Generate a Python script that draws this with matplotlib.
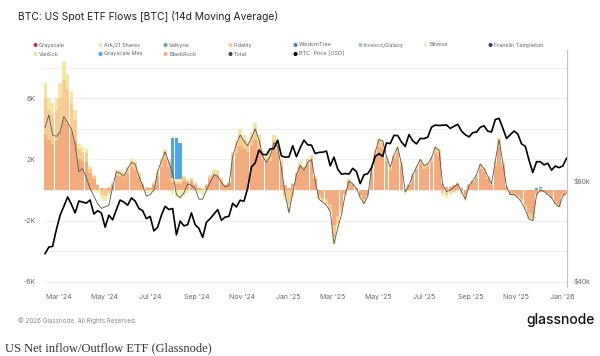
import numpy as np
import pandas as pd
import matplotlib
matplotlib.use("Agg")
import matplotlib.pyplot as plt
from matplotlib.ticker import FixedLocator, NullFormatter

# 14d moving average flows, thousands of BTC, one value every 5 days
dates = pd.date_range("2024-02-12", periods=140, freq="5D")

total = [4.1, 4.9, 3.6, 3.5, 3.8, 4.8, 4.4, 4.0, 3.0, 1.2,
         1.4, 0.8, 0.1, -0.4, -0.9, -1.2, -1.1, -1.0, 0.2, 1.2,
         1.1, 0.9, 1.4, 1.8, 1.7, 0.9, 0.3, -0.4, -0.3, 0.0,
         1.2, 1.9, 2.5, 1.8, 1.1, -0.3, -0.5, -0.2, 0.4, 0.3,
         0.1, -0.6, -0.6, 0.0, 0.5, 1.0, 0.9, 0.5, 0.2, 0.3,
         2.2, 3.0, 3.6, 3.2, 2.9, 3.4, 4.0, 3.3, 2.2, 1.8,
         2.2, 3.1, 2.8, 1.4, -0.3, -1.5, -0.2, 1.0, 1.6, 1.3,
         1.8, 2.0, 0.6, -0.6, -0.8, -1.0, -1.4, -3.5, -2.5, -1.6,
         -0.3, 0.6, 0.4, 0.1, -0.5, -0.9, -0.4, 1.3, 2.5, 3.3,
         3.2, 2.2, 1.5, 2.3, 2.8, 1.7, -0.1, 0.3, 1.0, 1.5,
         2.0, 1.6, 1.7, 2.1, 2.8, 2.6, 0.3, -0.1, 0.0, 0.2,
         0.4, -0.1, -0.6, 0.3, 0.6, 1.0, 1.7, 1.4, 0.9, 0.4,
         1.9, 3.3, 1.8, 0.2, -0.3, -0.3, -0.5, -0.8, -1.3, -1.9,
         -2.0, -0.3, 0.0, -0.1, -0.3, -0.5, -0.9, -1.1, -0.4, -0.2]

blackrock = [3.6, 3.3, 3.0, 3.2, 3.8, 4.6, 4.3, 3.8, 3.2, 2.0,
             1.9, 1.8, 1.1, 0.7, 0.3, 0.1, 0.05, 0.1, 0.3, 0.9,
             0.9, 0.8, 1.1, 1.5, 1.3, 0.8, 0.3, 0.1, 0.1, 0.3,
             0.9, 1.5, 2.0, 1.5, 0.5, 0.4, 0.4, 0.6, 0.5, 0.6,
             0.3, 0.1, 0.05, 0.3, 0.7, 0.9, 0.9, 0.5, 0.3, 0.4,
             1.8, 2.4, 2.9, 2.7, 2.5, 2.9, 3.3, 2.7, 2.0, 1.8,
             1.9, 2.7, 2.5, 1.5, 0.3, 0.1, 0.4, 1.0, 1.5, 1.3,
             1.7, 1.9, 0.7, -0.3, -0.5, -0.6, -0.9, -2.3, -1.7, -1.1,
             -0.2, 0.5, 0.3, 0.1, -0.3, -0.6, -0.3, 1.1, 2.1, 2.8,
             2.7, 1.9, 1.3, 2.0, 2.4, 1.5, 0.0, 0.3, 0.9, 1.3,
             1.7, 1.4, 1.5, 1.8, 2.4, 2.2, 0.4, 0.2, 0.2, 0.3,
             0.4, 0.1, -0.3, 0.3, 0.5, 0.8, 1.4, 1.2, 0.7, 0.35,
             1.6, 2.8, 1.5, 0.2, -0.2, -0.2, -0.35, -0.6, -1.0, -1.5,
             -1.6, -0.2, -0.1, -0.1, -0.2, -0.4, -0.7, -0.9, -0.3, -0.15]

fidelity = [2.4, 1.9, 1.9, 2.0, 2.2, 2.6, 2.3, 1.9, 1.4, 0.7,
            0.6, 0.6, 0.3, 0.2, 0.05, -0.3, -0.4, -0.2, 0.1, 0.2,
            0.2, 0.2, 0.3, 0.4, 0.4, 0.2, 0.1, 0.05, 0.05, 0.1,
            0.2, 0.4, 0.5, 0.3, 0.1, 0.1, 0.1, 0.2, 0.1, 0.1,
            0.1, 0.05, 0.0, 0.05, 0.2, 0.2, 0.2, 0.2, 0.05, 0.05,
            0.5, 0.6, 0.7, 0.6, 0.5, 0.6, 0.7, 0.6, 0.4, 0.3,
            0.4, 0.6, 0.5, 0.3, -0.4, -0.9, -0.3, 0.1, 0.2, 0.2,
            0.3, 0.3, 0.1, -0.2, -0.2, -0.3, -0.4, -0.8, -0.5, -0.3,
            -0.1, 0.1, 0.1, 0.0, -0.1, -0.2, -0.1, 0.15, 0.3, 0.4,
            0.4, 0.2, 0.15, 0.2, 0.3, 0.2, -0.1, 0.05, 0.1, 0.15,
            0.2, 0.2, 0.2, 0.3, 0.3, 0.3, -0.2, -0.3, -0.2, -0.1,
            0.05, -0.2, -0.2, 0.05, 0.1, 0.1, 0.2, 0.15, 0.1, 0.05,
            0.2, 0.4, 0.2, 0.0, -0.1, -0.1, -0.1, -0.15, -0.2, -0.3,
            -0.3, -0.1, 0.1, 0.0, -0.1, -0.1, -0.2, -0.2, -0.1, -0.05]

ark = [1.0, 0.8, 0.8, 0.8, 1.0, 1.2, 1.0, 0.8, 0.6, 0.3,
       0.3, 0.3, 0.2, 0.1, 0.05, 0.05, 0.05, 0.1, 0.1, 0.2,
       0.2, 0.2, 0.2, 0.2, 0.2, 0.2, 0.1, 0.05, 0.05, 0.1,
       0.2, 0.2, 0.2, 0.2, 0.2, 0.2, 0.2, 0.1, 0.1, 0.1,
       0.1, 0.05, 0.05, 0.05, 0.1, 0.2, 0.2, 0.1, 0.05, 0.05,
       0.2, 0.3, 0.4, 0.3, 0.3, 0.3, 0.4, 0.3, 0.2, 0.2,
       0.2, 0.3, 0.3, 0.2, 0.05, 0.0, 0.05, 0.1, 0.1, 0.1,
       0.1, 0.1, 0.1, 0, 0, 0, 0, 0, 0, 0,
       0, 0.1, 0.05, 0.05, 0, 0, 0, 0.1, 0.2, 0.2,
       0.2, 0.1, 0.1, 0.1, 0.2, 0.1, 0, 0.05, 0.1, 0.1,
       0.1, 0.1, 0.1, 0.1, 0.2, 0.2, 0.05, 0, 0, 0,
       0.05, 0, 0, 0.05, 0.05, 0.1, 0.1, 0.1, 0.1, 0.05,
       0.1, 0.2, 0.1, 0.05, 0, 0, 0, 0, 0, 0,
       0, 0, 0, 0, 0, 0, 0, 0, 0, 0]

bitwise = [0, 0, 0, 0, 0, 0, 0, 0, 0, 0,
           0, 0, 0, -0.1, -0.2, -0.3, -0.3, -0.2, 0, 0,
           0, 0, 0, 0, 0, 0, -0.1, -0.2, -0.2, -0.1,
           0, 0, 0, 0, -0.3, -0.5, -0.6, -0.4, -0.2, 0,
           0, -0.2, -0.3, -0.1, 0, 0, 0, 0, -0.1, 0,
           0, 0, 0, 0, 0, 0, 0, 0, 0, 0,
           0, 0, 0, 0, -0.3, -0.5, -0.2, 0, 0, 0,
           0, 0, 0, -0.1, -0.1, -0.1, -0.1, -0.4, -0.3, -0.2,
           0, 0, 0, 0, -0.1, -0.1, 0, 0, 0, 0,
           0, 0, 0, 0, 0, 0, -0.2, -0.1, 0, 0,
           0, 0, 0, 0, 0, 0, -0.2, -0.2, -0.1, -0.1,
           0, -0.1, -0.2, 0, 0, 0, 0, 0, 0, 0,
           0, 0, 0, -0.1, -0.1, -0.1, -0.05, -0.05, -0.1, -0.1,
           -0.1, 0, 0, 0, 0, 0, 0, 0, 0, 0]

grayscale_mini = [0] * 34 + [2.6, 2.7, 2.4] + [0] * 94 + [0.15, 0.1] + [0] * 7

# BTC price, thousands of USD
price = [48.3, 50.5, 50.8, 57.0, 63.0, 67.0, 71.5, 68.0, 64.0, 69.5,
         69.0, 68.5, 70.0, 63.5, 65.0, 64.0, 58.0, 63.0, 61.0, 65.5,
         70.0, 69.0, 67.5, 71.0, 69.5, 66.0, 65.0, 61.5, 62.5, 56.5,
         58.0, 63.0, 67.0, 65.5, 66.0, 55.0, 60.5, 58.5, 59.0, 64.0,
         59.0, 57.5, 54.0, 60.0, 61.5, 63.5, 65.5, 60.8, 62.2, 62.5,
         68.4, 66.7, 69.9, 69.4, 76.0, 88.0, 90.5, 98.9, 96.0, 95.8,
         99.8, 100.0, 106.0, 95.0, 94.2, 94.4, 102.0, 94.5, 100.5, 106.0,
         102.6, 102.4, 96.6, 97.4, 97.5, 98.3, 88.7, 94.2, 86.7, 83.7,
         84.1, 83.8, 87.2, 85.2, 78.4, 83.4, 84.0, 87.5, 94.7, 96.5,
         94.7, 104.0, 103.5, 109.6, 109.4, 104.6, 101.5, 110.2, 105.5, 103.3,
         107.3, 107.1, 108.2, 116.0, 117.7, 117.3, 117.6, 117.8, 115.0, 116.7,
         118.3, 112.9, 110.1, 108.4, 111.7, 112.1, 115.9, 117.1, 112.8, 112.2,
         122.3, 123.3, 115.3, 107.2, 110.1, 112.9, 110.6, 103.3, 101.6, 92.2,
         84.7, 91.3, 91.3, 89.3, 90.3, 86.1, 88.6, 87.6, 88.7, 93.5]

for s in (total, blackrock, fidelity, ark, bitwise, grayscale_mini, price):
    assert len(s) == len(dates), len(s)

legend_names = ["Grayscale", "Ark/21 Shares", "Valkyrie", "Fidelity", "WisdomTree",
                "Invesco/Galaxy", "Bitwise", "Franklin Templeton",
                "VanEck", "Grayscale Mini", "BlackRock", "Total", "BTC: Price [USD]"]
legend_colors = ["#b03a55", "#f1e6a2", "#5fa8a0", "#f6cc94", "#4f7fae",
                 "#9ad19e", "#eef0b4", "#3f3a8c",
                 "#dde8b2", "#4ea4e6", "#f2aa7f", "#444444", "#000000"]
col = dict(zip(legend_names, legend_colors))

xtick_dates = pd.to_datetime(["2024-03-01", "2024-05-01", "2024-07-01", "2024-09-01",
                              "2024-11-01", "2025-01-01", "2025-03-01", "2025-05-01",
                              "2025-07-01", "2025-09-01", "2025-11-01", "2026-01-01"])
xtick_labels = ["Mar '24", "May '24", "Jul '24", "Sep '24", "Nov '24", "Jan '25",
                "Mar '25", "May '25", "Jul '25", "Sep '25", "Nov '25", "Jan '26"]

plt.rcParams['font.family'] = ['Inter', 'DejaVu Sans']

fig = plt.figure(figsize=(6, 3.56), dpi=100)
ax = fig.add_axes([0.0733, 0.1938, 0.8717, 0.6657])
ax2 = ax.twinx()

# stacked bars, positives and negatives stacked separately
pos = np.zeros(len(dates))
neg = np.zeros(len(dates))
stack = [(blackrock, "BlackRock"), (fidelity, "Fidelity"), (ark, "Ark/21 Shares"),
         (bitwise, "Bitwise"), (grayscale_mini, "Grayscale Mini")]
for vals, name in stack:
    v = np.array(vals, dtype=float)
    bottom = np.where(v >= 0, pos, neg)
    ax.bar(dates, v, bottom=bottom, width=4.6, color=col[name], linewidth=0, zorder=2)
    pos = pos + np.clip(v, 0, None)
    neg = neg + np.clip(v, None, 0)

ax.plot(dates, total, color="#555555", lw=0.6, zorder=3)
ax2.plot(dates, price, color="black", lw=1.2, zorder=4)

ax.set_xlim(pd.Timestamp("2024-02-10 12:00"), pd.Timestamp("2026-01-07 14:00"))
ax.set_ylim(-6.34, 9.15)
ax.yaxis.set_major_locator(FixedLocator([-6, -2, 2, 6]))
ax.yaxis.set_minor_locator(FixedLocator([-4, 0, 4, 8]))
ax.set_yticklabels(["-6K", "-2K", "2K", "6K"])
ax.grid(axis="y", which="both", color="#ececec", lw=0.6, zorder=0)
ax.set_axisbelow(True)
ax.set_xticks(xtick_dates)
ax.set_xticklabels(xtick_labels)

ax2.set_yscale("log")
ax2.set_ylim(38.3, 198)
ax2.yaxis.set_major_locator(FixedLocator([40, 80]))
ax2.yaxis.set_minor_locator(FixedLocator([]))
ax2.yaxis.set_minor_formatter(NullFormatter())
ax2.set_yticklabels(["$40k", "$80k"])

for a in (ax, ax2):
    for s in a.spines.values():
        s.set_visible(False)
    a.tick_params(which="both", length=0, labelsize=5, labelcolor="#666666")
ax2.spines["right"].set_visible(True)
ax2.spines["right"].set_color("#c4c4c4")
ax2.spines["right"].set_linewidth(0.8)
ax.tick_params(axis="y", pad=6)
ax.tick_params(axis="x", pad=5)
ax2.tick_params(axis="y", pad=5)

fig.text(18 / 600, 1 - 16 / 356, "BTC: US Spot ETF Flows [BTC] (14d Moving Average)",
         fontsize=7.4, color="#222222", va="center", ha="left")

# legend, two rows of fixed-width columns
for k, (name, c) in enumerate(zip(legend_names, legend_colors)):
    row, cidx = divmod(k, 8)
    x0 = (35 + 65 * cidx) / 600
    y0 = 1 - (45 + 9 * row) / 356
    fig.text(x0, y0, "●", color=c, fontsize=4, va="center", ha="center")
    fig.text(x0 + 4 / 600, y0, name, color="#666666", fontsize=4, va="center", ha="left")

fig.text(18 / 600, 1 - 321 / 356, "© 2026 Glassnode. All Rights Reserved.",
         fontsize=4.5, color="#8a8a8a", va="center", ha="left")
fig.text(595 / 600, 1 - 320 / 356, "glassnode", fontsize=10, color="#111111",
         va="center", ha="right", fontweight="medium")
fig.text(5 / 600, 1 - 348 / 356, "US Net inflow/Outflow ETF (Glassnode)",
         fontsize=9, color="#333333", va="center", ha="left", family="Liberation Serif")

fig.savefig("out.png", dpi=100)
